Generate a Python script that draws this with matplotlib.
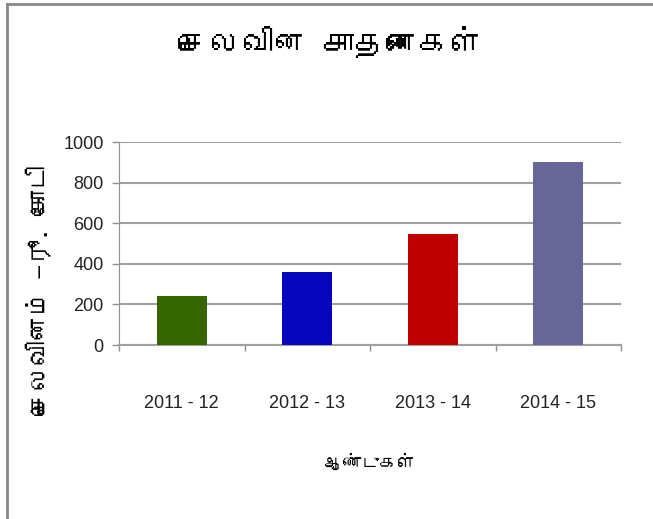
import matplotlib
matplotlib.use("Agg")
import matplotlib.pyplot as plt
from matplotlib import font_manager
from matplotlib.ft2font import FT2Font
from matplotlib.lines import Line2D

years = ['2011 - 12', '2012 - 13', '2013 - 14', '2014 - 15']
spend = [240, 358, 548, 902]
colors = ['#356600', '#0606BD', '#C00000', '#666699']
title = 'செலவின சாதனைகள்'
xlabel = 'ஆண்டுகள்'
ylabel = 'செலவினம் —ரூ. கோடி'


def tamil_families():
    # look for any installed font that has Tamil glyphs
    found = []
    for f in font_manager.fontManager.ttflist:
        try:
            cmap = FT2Font(f.fname).get_charmap()
        except Exception:
            continue
        if 0x0BA4 in cmap and f.name not in found:
            found.append(f.name)
    return found


tam = tamil_families() + ['DejaVu Sans']
narrow = ['Liberation Sans Narrow', 'Liberation Sans', 'DejaVu Sans']

fig = plt.figure(figsize=(6.53, 5.19), dpi=100)
ax = fig.add_axes([119 / 653, 1 - 345 / 519, 502 / 653, 202.7 / 519])

x = range(len(years))
ax.bar(x, spend, width=0.4, color=colors, zorder=3)
ax.set_xlim(-0.5, len(years) - 0.5)
ax.set_ylim(0, 1000)
ax.set_yticks(range(0, 1001, 200))
ax.yaxis.grid(True, color='#A0A0A0', linewidth=1.5, zorder=0)

ax.set_xticks([i + 0.5 for i in range(-1, len(years))], minor=False)
ax.set_xticklabels([])
ax.set_xticks(list(x), minor=True)
ax.set_xticklabels(years, minor=True)
ax.tick_params(axis='x', which='major', length=4, color='#909090', width=1)
ax.tick_params(axis='x', which='minor', length=0, pad=36, labelsize=13)
ax.tick_params(axis='y', length=5, color='#909090', width=1, labelsize=13, pad=6)
for lbl in ax.get_xticklabels(minor=True) + ax.get_yticklabels():
    lbl.set_family(narrow)
    lbl.set_color('#222222')

for s in ['top', 'right']:
    ax.spines[s].set_visible(False)
ax.spines['left'].set_color('#909090')
ax.spines['bottom'].set_color('#A0A0A0')
ax.spines['bottom'].set_linewidth(1.5)

fig.text(330 / 653, 1 - 42 / 519, title, ha='center', va='center', fontsize=23, family=tam)
fig.text(370 / 653, 1 - 462 / 519, xlabel, ha='center', va='center', fontsize=13,
         fontweight='bold', family=tam)
fig.text(38 / 653, 1 - 290 / 519, ylabel, ha='center', va='center', fontsize=18,
         fontweight='bold', rotation=90, family=tam)

# outer frame (top and left edges only)
fig.add_artist(Line2D([7 / 653, 1], [1 - 4 / 519, 1 - 4 / 519], color='#888888', lw=2))
fig.add_artist(Line2D([7 / 653, 7 / 653], [0, 1 - 4 / 519], color='#888888', lw=2))

fig.savefig('out.png', dpi=100)
